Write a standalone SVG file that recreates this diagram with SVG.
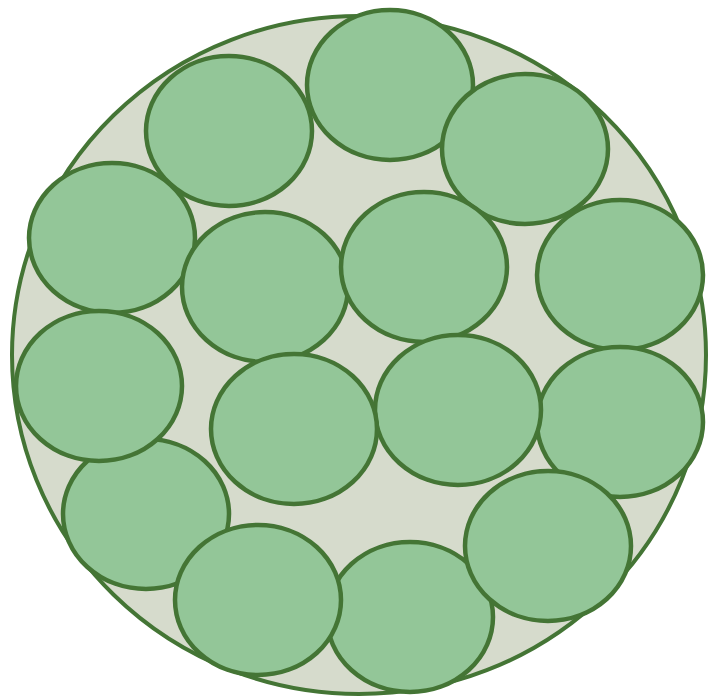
<svg xmlns="http://www.w3.org/2000/svg" width="709" height="698" viewBox="0 0 709 698">
<style>
.outer{fill:#d6dbcc;stroke:#447535;stroke-width:4}
.c{fill:#93c698;stroke:#447535;stroke-width:4.5}
</style>
<rect width="709" height="698" fill="#ffffff"/>
<ellipse class="outer" cx="359" cy="355" rx="347" ry="339"/>
<g id="c2"><ellipse class="c" cx="390" cy="85" rx="83" ry="75"/></g>
<g id="c3"><ellipse class="c" cx="525" cy="149" rx="83" ry="75"/></g>
<g id="c1"><ellipse class="c" cx="229" cy="131" rx="83" ry="75"/></g>
<g id="c4"><ellipse class="c" cx="112" cy="238" rx="83" ry="75"/></g>
<g id="c5"><ellipse class="c" cx="265" cy="287" rx="83" ry="75"/></g>
<g id="c6"><ellipse class="c" cx="424" cy="267" rx="83" ry="75"/></g>
<g id="c7"><ellipse class="c" cx="620" cy="275" rx="83" ry="75"/></g>
<g id="c11"><ellipse class="c" cx="620" cy="422" rx="83" ry="75"/></g>
<g id="c10"><ellipse class="c" cx="458" cy="410" rx="83" ry="75"/></g>
<g id="c9"><ellipse class="c" cx="294" cy="429" rx="83" ry="75"/></g>
<g id="c12"><ellipse class="c" cx="146" cy="514" rx="83" ry="75"/></g>
<g id="c8"><ellipse class="c" cx="99" cy="386" rx="83" ry="75"/></g>
<g id="c15"><ellipse class="c" cx="410" cy="617" rx="83" ry="75"/></g>
<g id="c14"><ellipse class="c" cx="258" cy="600" rx="83" ry="75"/></g>
<g id="c13"><ellipse class="c" cx="548" cy="546" rx="83" ry="75"/></g>
</svg>
